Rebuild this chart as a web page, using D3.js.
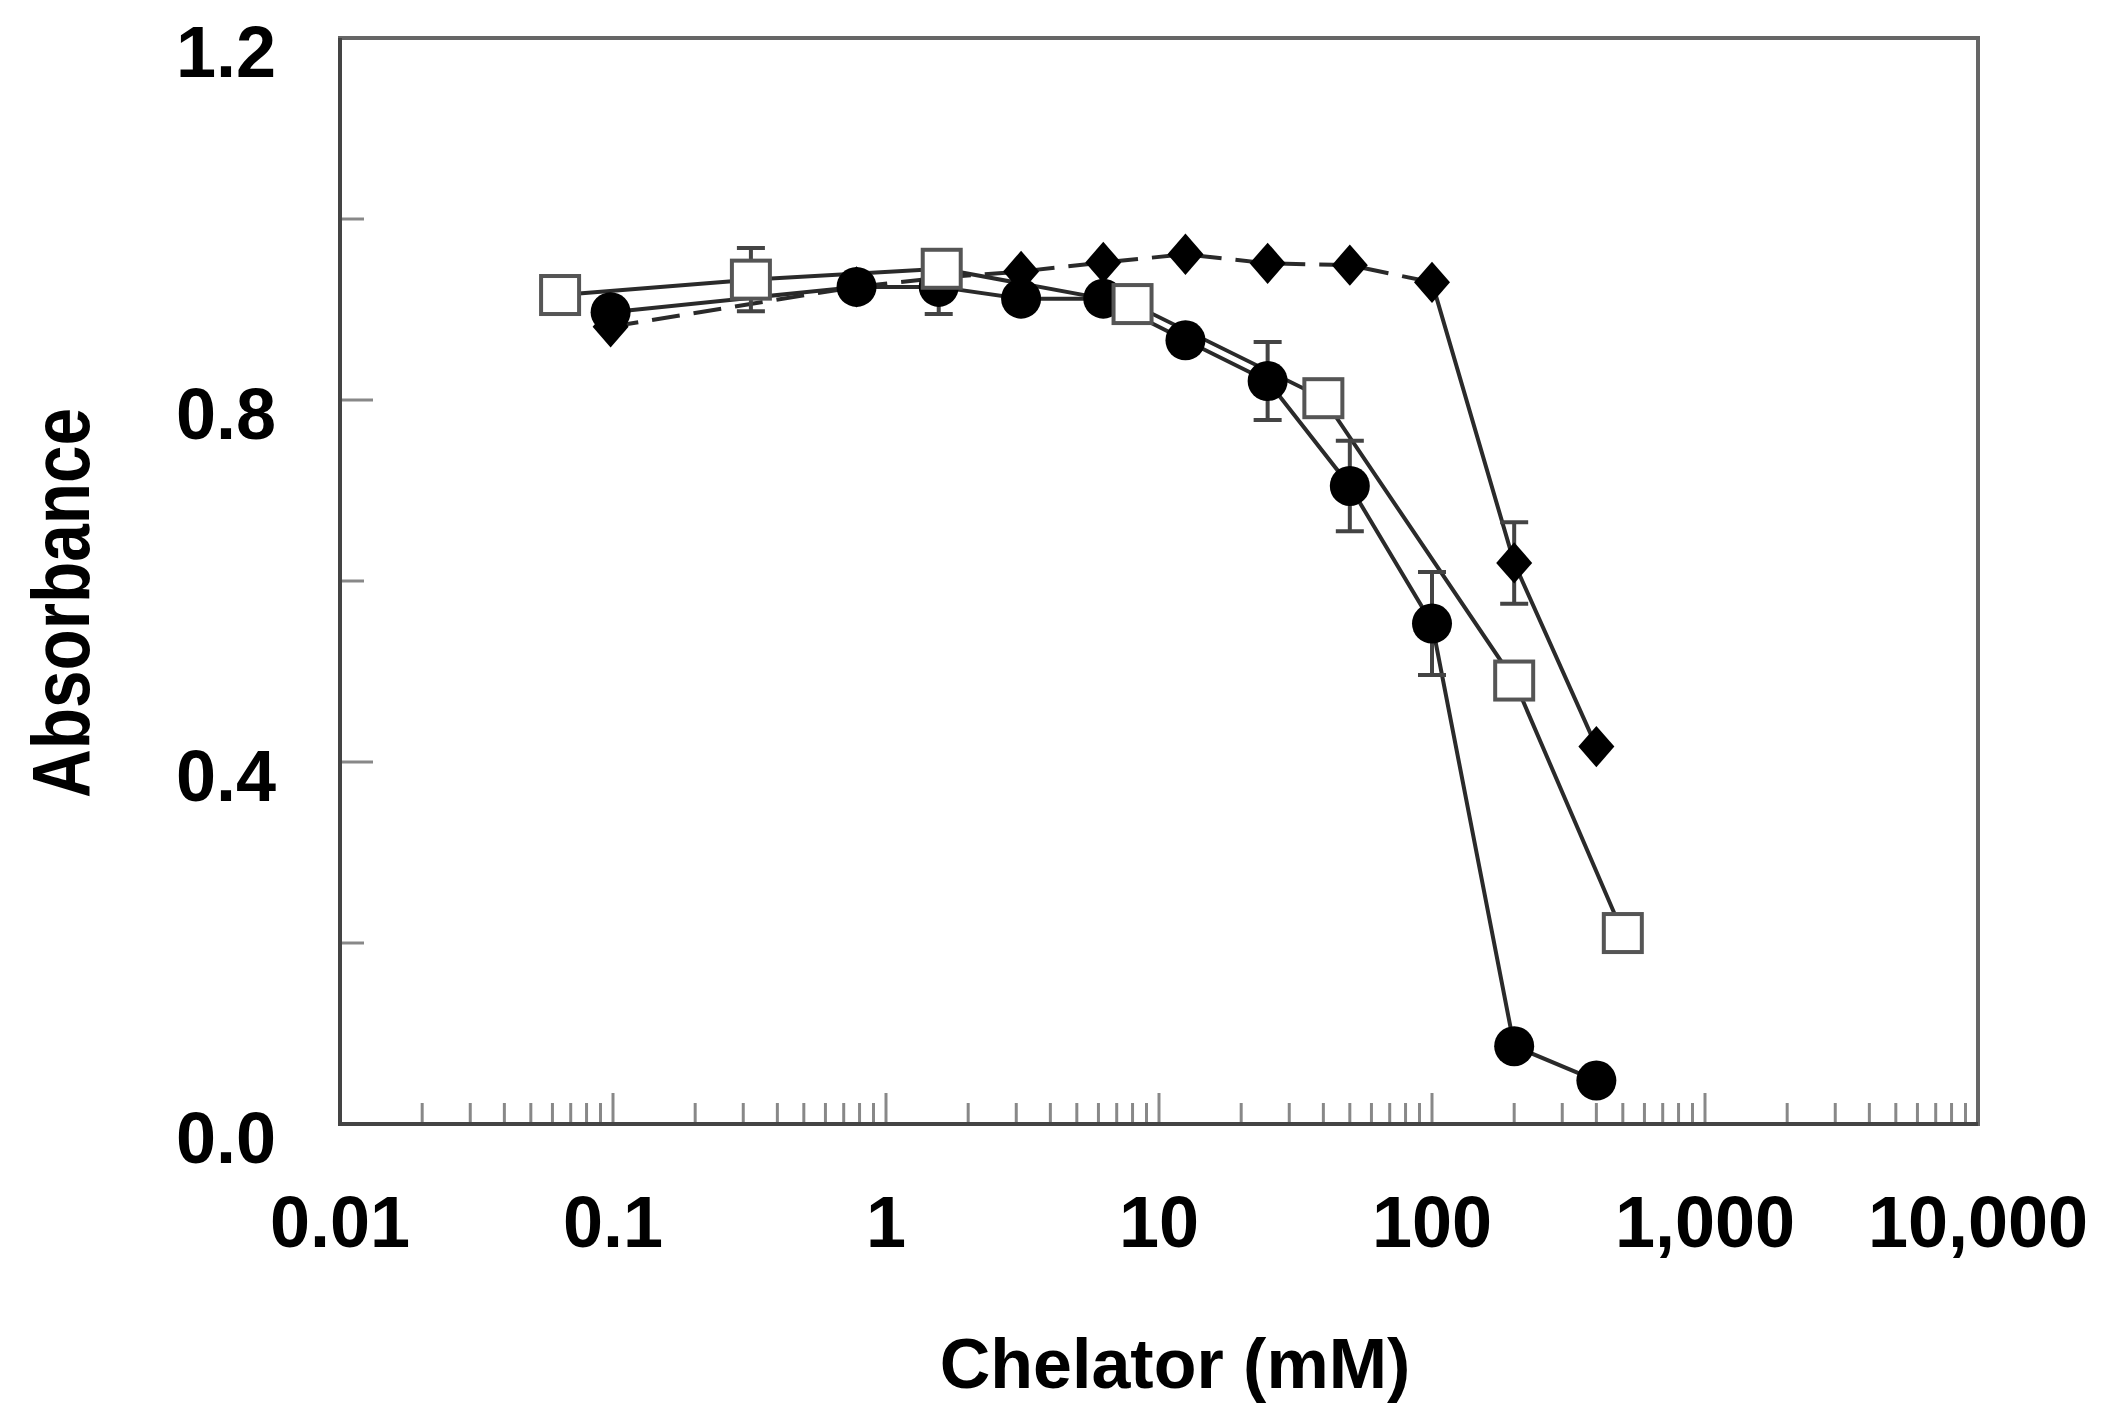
<!DOCTYPE html>
<html>
<head>
<meta charset="utf-8">
<script src="https://cdn.jsdelivr.net/npm/d3@7"></script>
<style>
  html, body { margin: 0; padding: 0; background: #fff; }
  text { font-family: "Liberation Sans", Arial, sans-serif; font-weight: bold; fill: #000; }
</style>
</head>
<body>
<svg id="chart"></svg>
<script>
// axis ticks
const xTicks = [0.01, 0.1, 1, 10, 100, 1000, 10000];
const yTicks = [0, 0.2, 0.4, 0.6, 0.8, 1.0, 1.2];
const yLabelled = [0, 0.4, 0.8, 1.2];

// open squares, solid line
const squareX = [0.064, 0.32, 1.6, 8, 40, 200, 500];
const squareY = [0.916, 0.933, 0.945, 0.906, 0.802, 0.49, 0.211];
const squareErr = [0, 0.035, 0, 0, 0, 0, 0];

// filled circles, solid line
const circleX = [0.098, 0.78, 1.56, 3.125, 6.25, 12.5, 25, 50, 100, 200, 400];
const circleY = [0.897, 0.925, 0.925, 0.912, 0.912, 0.866, 0.821, 0.705, 0.553, 0.086, 0.048];
const circleErr = [0, 0, 0.03, 0, 0, 0, 0.043, 0.05, 0.057, 0, 0];

// filled diamonds, dashed line up to 100 mM
const diamondX = [0.098, 0.78, 1.56, 3.125, 6.25, 12.5, 25, 50, 100, 200, 400];
const diamondY = [0.881, 0.925, 0.935, 0.942, 0.952, 0.961, 0.951, 0.949, 0.93, 0.62, 0.417];
const diamondErr = [0, 0, 0, 0, 0, 0, 0, 0, 0, 0.045, 0];

const styles = {
  width: 2110,
  height: 1426,
  margin: [38, 132, 302, 340] // top right bottom left
};

const toPoints = (xs, ys, es) => xs.map((x, i) => ({ x, y: ys[i], e: es[i] }));
const squares = toPoints(squareX, squareY, squareErr);
const circles = toPoints(circleX, circleY, circleErr);
const diamonds = toPoints(diamondX, diamondY, diamondErr);

const x = d3.scaleLog()
  .domain([0.01, 10000])
  .range([styles.margin[3], styles.width - styles.margin[1]]);

const y = d3.scaleLinear()
  .domain([0, 1.2])
  .range([styles.height - styles.margin[2], styles.margin[0]]);

const svg = d3.select('#chart')
  .attr('width', styles.width)
  .attr('height', styles.height)
  .attr('viewBox', [0, 0, styles.width, styles.height]);

const [x0, x1] = x.range();
const [yb, yt] = y.range();

// minor + major x ticks, pointing inward
const minorX = [];
for (let d = 0.01; d < 10000; d *= 10) {
  for (let k = 2; k <= 9; k++) minorX.push(d * k);
}
svg.append('g')
  .attr('stroke', '#888')
  .attr('stroke-width', 3)
  .selectAll('line')
  .data(minorX.map(v => ({ v, len: 21 })).concat(xTicks.slice(1, -1).map(v => ({ v, len: 31 }))))
  .join('line')
  .attr('x1', d => x(d.v))
  .attr('x2', d => x(d.v))
  .attr('y1', yb)
  .attr('y2', d => yb - d.len);

// y ticks, pointing inward
svg.append('g')
  .attr('stroke', '#888')
  .attr('stroke-width', 3)
  .selectAll('line')
  .data(yTicks.slice(1, -1))
  .join('line')
  .attr('x1', x0)
  .attr('x2', d => x0 + (yLabelled.includes(d) ? 33 : 24))
  .attr('y1', d => y(d))
  .attr('y2', d => y(d));

// plot frame
svg.append('rect')
  .attr('x', x0)
  .attr('y', yt)
  .attr('width', x1 - x0)
  .attr('height', yb - yt)
  .attr('fill', 'none')
  .attr('stroke', '#666')
  .attr('stroke-width', 4);
svg.append('path')
  .attr('d', `M${x0},${yt}V${yb}H${x1}`)
  .attr('fill', 'none')
  .attr('stroke', '#444')
  .attr('stroke-width', 4);

// x tick labels
const fmt = v => v < 1 ? String(v) : d3.format(',')(v);
svg.append('g')
  .selectAll('text')
  .data(xTicks)
  .join('text')
  .attr('x', d => x(d))
  .attr('y', yb + 123)
  .attr('text-anchor', 'middle')
  .attr('font-size', 72)
  .text(fmt);

// y tick labels
svg.append('g')
  .selectAll('text')
  .data(yLabelled)
  .join('text')
  .attr('x', 276)
  .attr('y', d => y(d) + 39)
  .attr('text-anchor', 'end')
  .attr('font-size', 72)
  .text(d => d.toFixed(1));

// axis titles
svg.append('text')
  .attr('x', 1175)
  .attr('y', 1388)
  .attr('text-anchor', 'middle')
  .attr('font-size', 70)
  .text('Chelator (mM)');

svg.append('text')
  .attr('transform', 'translate(89,603) rotate(-90)')
  .attr('text-anchor', 'middle')
  .attr('font-size', 82)
  .attr('textLength', 390)
  .attr('lengthAdjust', 'spacingAndGlyphs')
  .text('Absorbance');

// connecting lines
const line = d3.line().x(d => x(d.x)).y(d => y(d.y));
const lines = svg.append('g')
  .attr('fill', 'none')
  .attr('stroke', '#2a2a2a')
  .attr('stroke-width', 4);
lines.append('path').attr('d', line(squares));
lines.append('path').attr('d', line(circles));
const cut = diamondX.indexOf(100);
lines.append('path')
  .attr('d', line(diamonds.slice(0, cut + 1)))
  .attr('stroke-dasharray', '28,14');
lines.append('path').attr('d', line(diamonds.slice(cut)));

// error bars
const withErr = squares.concat(circles, diamonds).filter(d => d.e > 0);
svg.append('g')
  .attr('stroke', '#444')
  .attr('stroke-width', 4)
  .attr('fill', 'none')
  .selectAll('path')
  .data(withErr)
  .join('path')
  .attr('d', d => {
    const cx = x(d.x), hi = y(d.y + d.e), lo = y(d.y - d.e);
    return `M${cx - 14},${hi}H${cx + 14}M${cx},${hi}V${lo}M${cx - 14},${lo}H${cx + 14}`;
  });

// markers
const diamondShape = {
  draw(ctx, size) {
    const w = Math.sqrt(size) / 2, h = w * 1.15;
    ctx.moveTo(0, -h); ctx.lineTo(w, 0); ctx.lineTo(0, h); ctx.lineTo(-w, 0); ctx.closePath();
  }
};

svg.append('g')
  .selectAll('path')
  .data(diamonds)
  .join('path')
  .attr('transform', d => `translate(${x(d.x)},${y(d.y)})`)
  .attr('d', d3.symbol(diamondShape, 36 * 36))
  .attr('fill', '#000');

svg.append('g')
  .selectAll('circle')
  .data(circles)
  .join('circle')
  .attr('cx', d => x(d.x))
  .attr('cy', d => y(d.y))
  .attr('r', 20)
  .attr('fill', '#000');

svg.append('g')
  .selectAll('rect')
  .data(squares)
  .join('rect')
  .attr('x', d => x(d.x) - 19)
  .attr('y', d => y(d.y) - 19)
  .attr('width', 38)
  .attr('height', 38)
  .attr('fill', '#fff')
  .attr('stroke', '#555')
  .attr('stroke-width', 4);
</script>
</body>
</html>
